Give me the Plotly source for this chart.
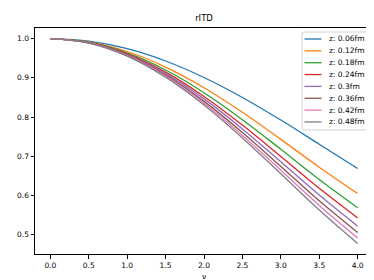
import plotly.graph_objects as go

nu = [0.0, 0.5, 1.0, 1.5, 2.0, 2.5, 3.0, 3.5, 4.0]

z_labels = ["z: 0.06fm", "z: 0.12fm", "z: 0.18fm", "z: 0.24fm",
            "z: 0.3fm", "z: 0.36fm", "z: 0.42fm", "z: 0.48fm"]

rITD_z006 = [1.0, 0.9935, 0.9742, 0.9429, 0.9009, 0.8500, 0.7924, 0.7309, 0.669]
rITD_z012 = [1.0, 0.9917, 0.9671, 0.9274, 0.8748, 0.8122, 0.7431, 0.6723, 0.605]
rITD_z018 = [1.0, 0.9908, 0.9636, 0.9199, 0.8621, 0.7933, 0.7180, 0.6411, 0.569]
rITD_z024 = [1.0, 0.9901, 0.9611, 0.9144, 0.8526, 0.7795, 0.6995, 0.6184, 0.543]
rITD_z030 = [1.0, 0.9897, 0.9594, 0.9107, 0.8463, 0.7698, 0.6861, 0.6012, 0.522]
rITD_z036 = [1.0, 0.9893, 0.9577, 0.9070, 0.8400, 0.7607, 0.6742, 0.5868, 0.506]
rITD_z042 = [1.0, 0.9889, 0.9564, 0.9041, 0.8350, 0.7533, 0.6644, 0.5747, 0.492]
rITD_z048 = [1.0, 0.9887, 0.9553, 0.9016, 0.8308, 0.7469, 0.6555, 0.5632, 0.478]

series = [rITD_z006, rITD_z012, rITD_z018, rITD_z024,
          rITD_z030, rITD_z036, rITD_z042, rITD_z048]
colors = ["#1f77b4", "#ff7f0e", "#2ca02c", "#d62728",
          "#9467bd", "#8c564b", "#e377c2", "#7f7f7f"]

fig = go.Figure()
for lab, ys, col in zip(z_labels, series, colors):
    fig.add_trace(go.Scatter(x=nu, y=ys, mode="lines", name=lab, showlegend=False,
                             line=dict(color=col, width=1.3, shape="spline")))

axis_common = dict(showline=True, mirror=True, linecolor="#000", linewidth=1,
                   ticks="outside", ticklen=3.5, tickcolor="#000", tickwidth=1,
                   showgrid=False, zeroline=False,
                   tickfont=dict(family="DejaVu Sans", size=7.5, color="#000"))

# plot area geometry (pixels) for the hand-drawn matplotlib-style legend
L, R, T, B = 27, 365, 20, 246
PW, PH = R - L, B - T
def px(x):
    return (x - L) / PW
def py(y):
    return (B - y) / PH

shapes = []
annotations = []
# legend frame
bx0, bx1, by0, by1 = 294, 360, 24, 122
r = 2
path = (f"M {px(bx0 + r)},{py(by0)} L {px(bx1 - r)},{py(by0)} "
        f"Q {px(bx1)},{py(by0)} {px(bx1)},{py(by0 + r)} "
        f"L {px(bx1)},{py(by1 - r)} Q {px(bx1)},{py(by1)} {px(bx1 - r)},{py(by1)} "
        f"L {px(bx0 + r)},{py(by1)} Q {px(bx0)},{py(by1)} {px(bx0)},{py(by1 - r)} "
        f"L {px(bx0)},{py(by0 + r)} Q {px(bx0)},{py(by0)} {px(bx0 + r)},{py(by0)} Z")
shapes.append(dict(type="path", xref="paper", yref="paper", path=path,
                   line=dict(color="#d0d0d0", width=1), fillcolor="rgba(255,255,255,0.85)",
                   layer="above"))
for i, (lab, col) in enumerate(zip(z_labels, colors)):
    yy = 31 + i * 11.85
    shapes.append(dict(type="line", xref="paper", yref="paper",
                       x0=px(296.5), x1=px(313.5), y0=py(yy), y1=py(yy),
                       line=dict(color=col, width=1.3), layer="above"))
    annotations.append(dict(xref="paper", yref="paper", x=px(318.5), y=py(yy),
                            text=lab, showarrow=False, xanchor="left", yanchor="middle",
                            font=dict(family="DejaVu Sans", size=7.5, color="#000")))

# x-axis label
annotations.append(dict(xref="paper", yref="paper", x=0.5, y=py(261.5), text="ν",
                        showarrow=False, xanchor="center", yanchor="top",
                        font=dict(family="DejaVu Sans", size=7.5, color="#000")))

fig.update_layout(
    width=374, height=280,
    margin=dict(l=L, r=374 - R, t=T, b=280 - B),
    paper_bgcolor="white", plot_bgcolor="white",
    font=dict(family="DejaVu Sans", size=7.5, color="#000"),
    title=dict(text="rITD", xref="paper", x=0.5, xanchor="center", y=0.965, yanchor="middle",
               font=dict(family="DejaVu Sans", size=8.5, color="#000")),
    xaxis=dict(range=[-0.2, 4.2], tickvals=[0, 0.5, 1, 1.5, 2, 2.5, 3, 3.5, 4],
               ticktext=["0.0", "0.5", "1.0", "1.5", "2.0", "2.5", "3.0", "3.5", "4.0"],
               **axis_common),
    yaxis=dict(range=[0.451, 1.027], tickvals=[0.5, 0.6, 0.7, 0.8, 0.9, 1.0],
               ticktext=["0.5", "0.6", "0.7", "0.8", "0.9", "1.0"], **axis_common),
    shapes=shapes,
    annotations=annotations,
    showlegend=False,
)

fig.write_html("out.html")
